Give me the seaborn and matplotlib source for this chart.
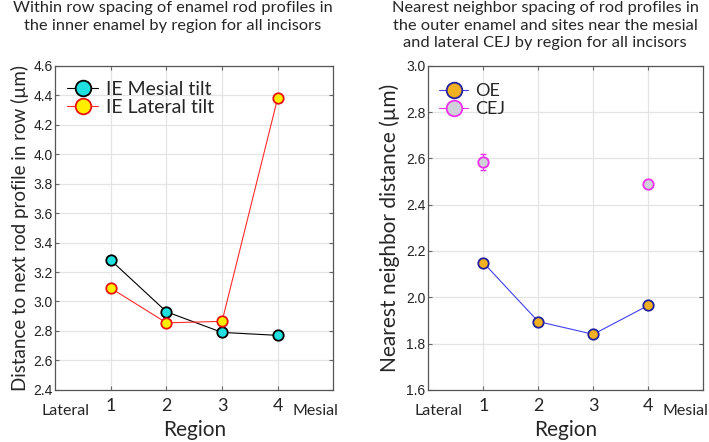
import matplotlib
matplotlib.use("Agg")
import matplotlib.pyplot as plt
from matplotlib.lines import Line2D
import seaborn as sns
import numpy as np

regions = [1, 2, 3, 4]
ie_mesial = [3.28, 2.93, 2.79, 2.77]
ie_lateral = [3.09, 2.855, 2.865, 4.38]
oe = [2.15, 1.895, 1.84, 1.965]
cej_regions = [1, 4]
cej = [2.585, 2.49]
cej_err = [0.033, 0.012]

sns.set_theme(style="white")
plt.rcParams['font.family'] = ['Lato', 'DejaVu Sans']

fig = plt.figure(figsize=(7.09, 4.42), dpi=100)
ax1 = fig.add_axes([0.078, 0.118, 0.392, 0.733])
ax2 = fig.add_axes([0.604, 0.118, 0.388, 0.733])

ms = 7.5
sty_mes = dict(marker="o", markersize=ms, markerfacecolor="#1ee0e0",
               markeredgecolor="black", markeredgewidth=1.3)
sty_lat = dict(marker="o", markersize=ms, markerfacecolor="#ffee00",
               markeredgecolor="#e81010", markeredgewidth=1.3)
sty_oe = dict(marker="o", markersize=ms, markerfacecolor="#f0b020",
              markeredgecolor="#2020a0", markeredgewidth=1.3)
sty_cej = dict(marker="o", markersize=ms, markerfacecolor="#d0d0d8",
               markeredgecolor="#ee30ee", markeredgewidth=1.3)

sns.lineplot(x=regions, y=ie_mesial, ax=ax1, color="black", lw=0.8, **sty_mes)
sns.lineplot(x=regions, y=ie_lateral, ax=ax1, color="#ff2a2a", lw=0.8, **sty_lat)
sns.lineplot(x=regions, y=oe, ax=ax2, color="#4040ee", lw=0.8, **sty_oe)
ax2.errorbar(cej_regions, cej, yerr=cej_err, fmt="none", ecolor="#ee30ee",
             elinewidth=0.8, capsize=2.5)
sns.scatterplot(x=cej_regions, y=cej, ax=ax2, s=ms**2, color="#d0d0d8",
                edgecolor="#ee30ee", linewidth=1.3, zorder=5)

tick_font = ['Liberation Sans', 'DejaVu Sans']
for ax, ylim, yticks in [(ax1, (2.4, 4.6), np.arange(2.4, 4.61, 0.2)),
                         (ax2, (1.6, 3.0), np.arange(1.6, 3.01, 0.2))]:
    ax.set_xlim(0, 5)
    ax.set_ylim(*ylim)
    ax.set_xticks(regions)
    ax.set_xticklabels([str(r) for r in regions], fontsize=13)
    ax.set_yticks(yticks)
    ax.set_yticklabels([f"{t:.1f}" for t in yticks], fontsize=10, family=tick_font, color="#222222")
    ax.grid(True, color="#e4e4e4", lw=0.9)
    ax.tick_params(direction="in", length=3, width=0.8, color="#666666",
                   top=True, right=True, bottom=True, left=True)
    ax.tick_params(axis="x", pad=6)
    ax.tick_params(axis="y", pad=2)
    for s in ax.spines.values():
        s.set_color("#555555")
        s.set_linewidth(0.9)
    ax.set_xlabel("Region", fontsize=15, labelpad=4)
    ax.text(0.18, -0.045, "Lateral", transform=ax.get_xaxis_transform(),
            ha="center", va="top", fontsize=11.5)
    ax.text(4.68, -0.045, "Mesial", transform=ax.get_xaxis_transform(),
            ha="center", va="top", fontsize=11.5)

ax1.set_ylabel("Distance to next rod profile in row (\u00b5m)", fontsize=13.5, labelpad=3)
ax2.set_ylabel("Nearest neighbor distance (\u00b5m)", fontsize=15, labelpad=4)

fig.text(0.244, 0.997, "Within row spacing of enamel rod profiles in\nthe inner enamel by region for all incisors",
         ha="center", va="top", fontsize=11.8, linespacing=1.3)
fig.text(0.769, 0.997, "Nearest neighbor spacing of rod profiles in\nthe outer enamel and sites near the mesial\nand lateral CEJ by region for all incisors",
         ha="center", va="top", fontsize=11.8, linespacing=1.3)

h1 = [Line2D([], [], color="black", lw=0.8, **sty_mes),
      Line2D([], [], color="#ff2a2a", lw=0.8, **sty_lat)]
h2 = [Line2D([], [], color="#4040ee", lw=0.8, **sty_oe),
      Line2D([], [], color="#ee30ee", lw=0.8, **sty_cej)]
ax1.legend(h1, ["IE Mesial tilt", "IE Lateral tilt"], loc="upper left",
           bbox_to_anchor=(0.0, 0.99), frameon=False, fontsize=14, markerscale=1.5,
           handlelength=1.6, handletextpad=0.4, labelspacing=0.05, borderaxespad=0.2)
ax2.legend(h2, ["OE", "CEJ"], loc="upper left",
           bbox_to_anchor=(0.0, 0.98), frameon=False, fontsize=13, markerscale=1.5,
           handlelength=1.6, handletextpad=0.4, labelspacing=0.1, borderaxespad=0.2)

fig.savefig("out.png", dpi=100)
